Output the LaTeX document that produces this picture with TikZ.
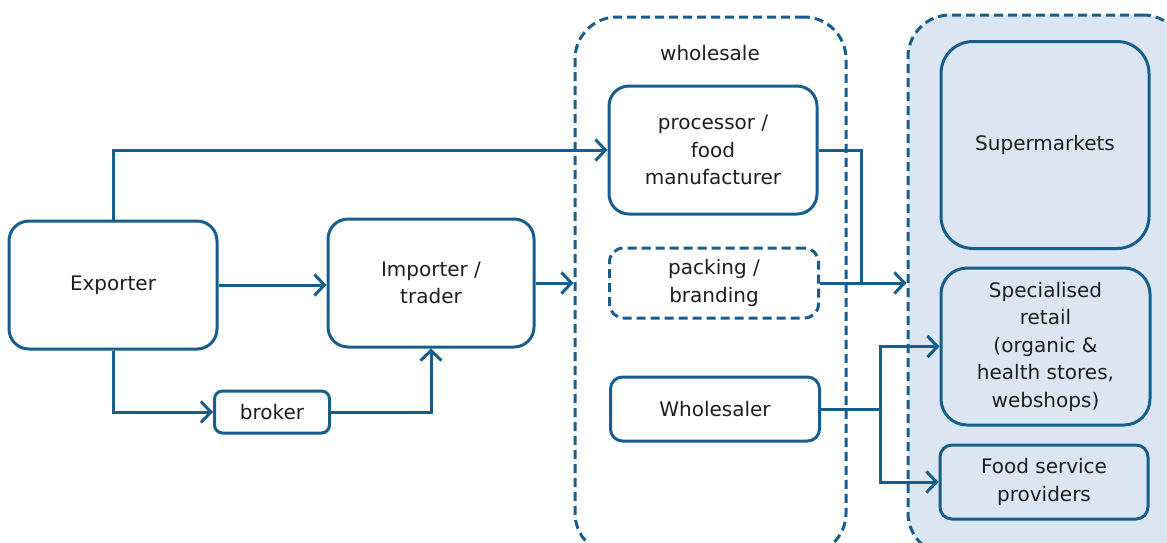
\documentclass[tikz,border=0pt]{standalone}
\usepackage{fontspec}
\setmainfont{DejaVu Sans}
\usetikzlibrary{arrows.meta}
\definecolor{lblue}{RGB}{24,94,140}
\definecolor{rfill}{RGB}{220,230,242}
\definecolor{txt}{RGB}{30,30,30}
\begin{document}
\begin{tikzpicture}[x=1pt,y=-1pt,
  box/.style={draw=lblue, line width=3pt, rounded corners=20pt, align=center, text=txt,
    font=\fontsize{20}{27.5}\selectfont, inner sep=0pt},
  cont/.style={draw=lblue, line width=3pt, rounded corners=42pt, dash pattern=on 9pt off 5pt},
  link/.style={draw=lblue, line width=3pt},
  arr/.style={link, -{Straight Barb[length=10pt,width=21pt,line width=3pt]}}
]
\useasboundingbox (0,0) rectangle (1167,542);
\clip (0,0) rectangle (1167,542);
% containers
\node[cont, fill=rfill, minimum width=277pt, minimum height=540pt] (ret) at (1046.5,285) {};
\node[cont, minimum width=271pt, minimum height=538pt] (whs) at (710.5,286) {};
\node[text=txt, font=\fontsize{20}{27.5}\selectfont] (whslab) at (710,53) {wholesale};
% nodes
\node[box, minimum width=208pt, minimum height=128pt] (exp) at (113,285) {Exporter};
\node[box, minimum width=206pt, minimum height=128pt] (imp) at (431,283) {Importer /\\trader};
\node[box, rounded corners=8pt, minimum width=115pt, minimum height=42pt] (brk) at (272,412) {broker};
\node[box, minimum width=208pt, minimum height=128pt] (proc) at (713,150) {processor /\\food\\manufacturer};
\node[box, dash pattern=on 9pt off 5pt, rounded corners=14pt, minimum width=209pt, minimum height=70pt] (pack) at (714,283) {packing /\\branding};
\node[box, rounded corners=12pt, minimum width=209pt, minimum height=64pt] (wsr) at (715,409) {Wholesaler};
\node[box, fill=rfill, rounded corners=32pt, minimum width=208pt, minimum height=207pt] (sup) at (1045,145) {Supermarkets};
\node[box, fill=rfill, rounded corners=26pt, minimum width=209pt, minimum height=157pt] (spec) at (1045.5,346.5) {Specialised\\retail\\(organic \&\\health stores,\\webshops)};
\node[box, fill=rfill, rounded corners=12pt, minimum width=208pt, minimum height=74pt] (food) at (1044,482) {Food service\\providers};
% joints
\coordinate (j1) at (861,283);
\coordinate (j2) at (880,409);
% connectors
\draw[arr] (exp.north) |- (proc.west);
\draw[arr] (exp.east) -- (exp.east -| imp.west);
\draw[arr] (exp.south) |- (brk.west);
\draw[arr] (brk.east) -| (imp.south);
\draw[arr] (imp.east) -- (imp.east -| whs.west);
\draw[link] (proc.east) -| (j1);
\draw[arr] (pack.east) -- (pack.east -| ret.west);
\draw[link] (wsr.east) -- (j2);
\draw[arr] (j2) |- (spec.west);
\draw[arr] (j2) |- (food.west);
\end{tikzpicture}
\end{document}
